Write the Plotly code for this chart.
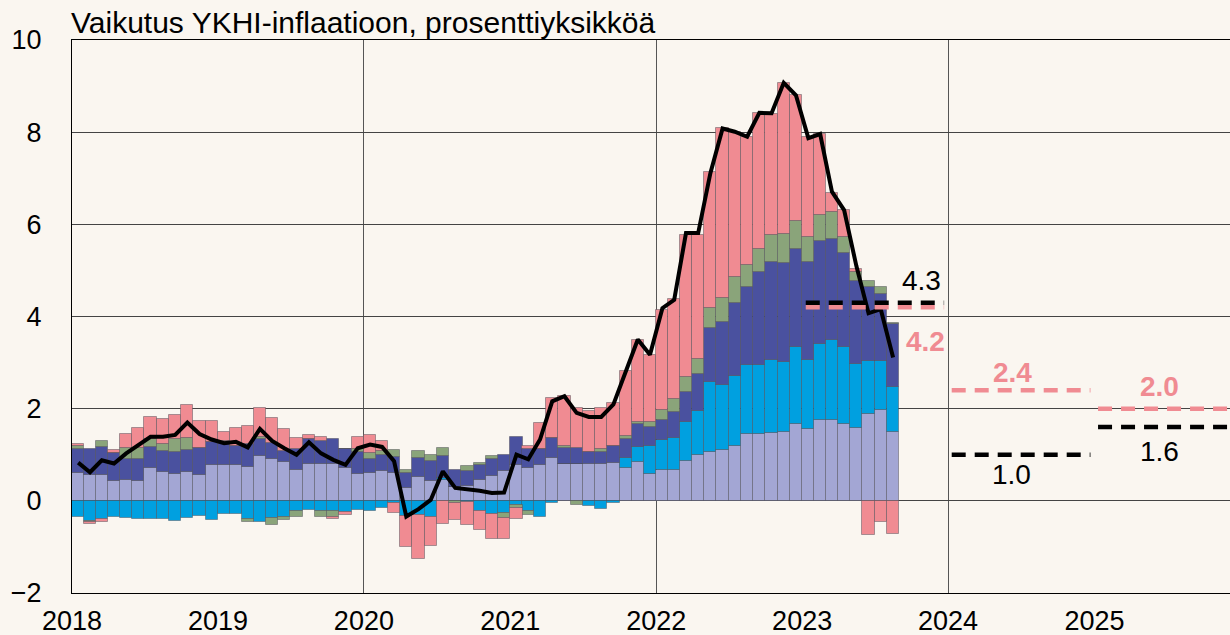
import pandas as pd
import plotly.graph_objects as go

months = pd.date_range("2018-01-01", "2023-08-01", freq="MS").strftime("%Y-%m-%d").tolist()

palvelut = [0.60, 0.57, 0.57, 0.43, 0.45, 0.42, 0.71, 0.62, 0.58, 0.62, 0.57, 0.78,
            0.78, 0.78, 0.74, 0.98, 0.91, 0.85, 0.67, 0.81, 0.81, 0.80, 0.71, 0.59,
            0.60, 0.64, 0.60, 0.28, 0.51, 0.44, 0.45, 0.31, 0.33, 0.46, 0.53, 0.64,
            0.78, 0.71, 0.78, 0.93, 0.80, 0.80, 0.80, 0.80, 0.83, 0.72, 0.84, 0.59,
            0.68, 0.67, 0.87, 1.00, 1.07, 1.11, 1.18, 1.45, 1.45, 1.47, 1.50, 1.66,
            1.55, 1.76, 1.76, 1.66, 1.58, 1.89, 1.97, 1.49]
teollisuus = [-0.35, -0.43, -0.40, -0.36, -0.38, -0.40, -0.40, -0.40, -0.43, -0.38, -0.32, -0.42,
              -0.28, -0.28, -0.40, -0.46, -0.38, -0.35, -0.23, -0.20, -0.22, -0.22, -0.25, -0.20,
              -0.23, -0.16, -0.05, -0.32, -0.30, -0.36, 0.04, 0.00, -0.02, -0.23, -0.29, -0.27,
              -0.10, -0.23, -0.36, -0.05, 0.00, 0.00, -0.12, -0.18, -0.04, 0.22, 0.32, 0.59,
              0.64, 0.69, 0.84, 0.96, 1.50, 1.41, 1.52, 1.50, 1.49, 1.59, 1.52, 1.67,
              1.51, 1.64, 1.72, 1.67, 1.39, 1.15, 1.07, 0.99]
elintarvikkeet = [0.52, 0.55, 0.59, 0.60, 0.45, 0.48, 0.46, 0.47, 0.49, 0.49, 0.57, 0.50,
                  0.47, 0.42, 0.49, 0.36, 0.34, 0.24, 0.45, 0.53, 0.48, 0.54, 0.41, 0.46,
                  0.31, 0.35, 0.36, 0.32, 0.42, 0.42, 0.49, 0.35, 0.31, 0.32, 0.38, 0.36,
                  0.60, 0.41, 0.34, 0.43, 0.34, 0.34, 0.27, 0.27, 0.35, 0.40, 0.50, 0.43,
                  0.44, 0.56, 0.66, 0.80, 1.17, 1.37, 1.60, 1.68, 2.03, 2.13, 2.14, 2.13,
                  2.13, 2.23, 2.20, 2.04, 1.79, 1.59, 1.45, 1.35]
alkoholi = [0.06, -0.02, 0.13, 0.00, 0.25, 0.25, 0.17, 0.14, 0.27, 0.25, 0.00, 0.00,
            0.04, 0.00, -0.07, 0.05, -0.14, -0.07, -0.13, 0.00, -0.14, -0.12, 0.00, 0.07,
            0.13, 0.09, 0.15, 0.06, 0.16, 0.13, 0.16, -0.05, 0.12, 0.05, 0.07, -0.11,
            -0.05, -0.07, 0.00, 0.00, 0.04, -0.08, 0.00, 0.05, 0.00, 0.06, 0.04, 0.09,
            0.21, 0.28, 0.31, 0.32, 0.44, 0.51, 0.55, 0.49, 0.49, 0.58, 0.62, 0.62,
            0.54, 0.57, 0.58, 0.35, 0.21, 0.14, 0.14, 0.02]
energia = [0.05, -0.05, -0.05, 0.07, 0.29, 0.43, 0.49, 0.55, 0.52, 0.71, 0.60, 0.46,
           0.20, 0.38, 0.40, 0.62, 0.55, 0.47, 0.24, 0.09, 0.10, -0.06, -0.05, 0.27,
           0.39, 0.21, -0.22, -0.69, -0.96, -0.61, -0.51, -0.36, -0.50, -0.40, -0.54, -0.45,
           -0.25, 0.06, 0.57, 0.87, 1.10, 0.87, 0.89, 0.89, 0.94, 1.41, 1.78, 1.47,
           2.17, 2.17, 3.09, 2.69, 2.95, 3.70, 3.16, 2.78, 2.95, 2.62, 3.29, 2.72,
           2.17, 1.76, 0.41, 0.59, 0.06, -0.74, -0.45, -0.72]
ykhi = [0.83, 0.62, 0.88, 0.81, 1.03, 1.20, 1.39, 1.39, 1.43, 1.70, 1.45, 1.33,
        1.25, 1.28, 1.16, 1.56, 1.30, 1.14, 1.00, 1.27, 1.03, 0.89, 0.78, 1.14,
        1.22, 1.17, 0.86, -0.34, -0.18, 0.02, 0.64, 0.28, 0.26, 0.22, 0.17, 0.18,
        1.00, 0.90, 1.33, 2.16, 2.27, 1.91, 1.82, 1.82, 2.09, 2.81, 3.50, 3.17,
        4.18, 4.36, 5.81, 5.81, 7.11, 8.08, 8.01, 7.90, 8.42, 8.41, 9.07, 8.80,
        7.87, 7.96, 6.71, 6.31, 5.10, 4.07, 4.16, 3.11]

ennuste_vuodet = [2023, 2024, 2025]
ennuste_musta = [4.3, 1.0, 1.6]
ennuste_pun = [4.2, 2.4, 2.0]

year_ticks = [2018, 2019, 2020, 2021, 2022, 2023, 2024, 2025]

FONT = "Liberation Sans, Arial, sans-serif"
BG = "#faf6f0"
comp_names = ["Palvelut", "Teollisuustuotteet", "Elintarvikkeet", "Alkoholi ja tupakka", "Energia"]
comp_vals = [palvelut, teollisuus, elintarvikkeet, alkoholi, energia]
comp_cols = ["#a3a6d4", "#00a0e0", "#4a519f", "#8aa47a", "#f08b92"]

MONTH_MS = 30.44 * 24 * 3600 * 1000

fig = go.Figure()
for name, vals, col in zip(comp_names, comp_vals, comp_cols):
    fig.add_trace(go.Bar(
        x=months, y=vals, name=name, marker_color=col,
        marker_line=dict(color="rgba(70,70,80,0.45)", width=1),
        xperiod="M1", xperiodalignment="middle", width=MONTH_MS,
    ))

fig.add_trace(go.Scatter(
    x=months, y=ykhi, mode="lines", name="YKHI",
    line=dict(color="black", width=4),
    xperiod="M1", xperiodalignment="middle",
))

black_lbl = dict(dx=[47, -9, -7], dy=[-22, 20, 24])
pink_lbl = dict(dx=[51, -8, -7], dy=[34, -18, -22])
for i, yr in enumerate(ennuste_vuodet):
    xs = [f"{yr}-01-10", f"{yr}-12-22"]
    fig.add_trace(go.Scatter(x=xs, y=[ennuste_pun[i]] * 2, mode="lines",
                             line=dict(color="#f08b92", width=4.5, dash="14px,9px"),
                             showlegend=False))
    fig.add_trace(go.Scatter(x=xs, y=[ennuste_musta[i]] * 2, mode="lines",
                             line=dict(color="black", width=4.5, dash="14px,9px"),
                             showlegend=False))
    fig.add_annotation(x=f"{yr}-07-01", y=ennuste_musta[i], text=f"{ennuste_musta[i]:.1f}",
                       showarrow=False, xshift=black_lbl["dx"][i], yshift=-black_lbl["dy"][i],
                       font=dict(family=FONT, size=28, color="black"))
    fig.add_annotation(x=f"{yr}-07-01", y=ennuste_pun[i], text=f"<b>{ennuste_pun[i]:.1f}</b>",
                       showarrow=False, xshift=pink_lbl["dx"][i], yshift=-pink_lbl["dy"][i],
                       font=dict(family=FONT, size=28, color="#f08b92"))

fig.add_annotation(x=0, y=1, xref="paper", yref="paper", xanchor="left", yanchor="bottom",
                   text="Vaikutus YKHI-inflaatioon, prosenttiyksikköä", showarrow=False,
                   xshift=-3, yshift=-1, font=dict(family=FONT, size=30, color="black"))

fig.update_layout(
    width=1230, height=635,
    margin=dict(l=72, r=0, t=40, b=42, autoexpand=False),
    paper_bgcolor=BG, plot_bgcolor=BG,
    barmode="relative", bargap=0,
    showlegend=False,
    font=dict(family=FONT, size=27, color="black"),
    xaxis=dict(
        type="date", range=["2018-01-01", "2025-12-06"],
        tickvals=[f"{y}-01-01" for y in year_ticks], ticktext=[str(y) for y in year_ticks],
        showgrid=False, showline=True, linecolor="black", linewidth=1, mirror=True,
        ticks="", ticklabelstandoff=4, automargin=False,
        minor=dict(dtick="M24", tick0="2018-01-01", showgrid=True, gridcolor="#555555", gridwidth=1),
        tickfont=dict(size=27),
    ),
    yaxis=dict(
        range=[-2, 10], tickvals=[-2, 0, 2, 4, 6, 8, 10],
        ticktext=["\u22122", "0", "2", "4", "6", "8", "10"],
        showgrid=True, gridcolor="#444444", gridwidth=1,
        zeroline=True, zerolinecolor="#444444", zerolinewidth=1,
        showline=True, linecolor="black", linewidth=1,
        ticks="", ticklabelstandoff=24, tickfont=dict(size=27), automargin=False,
    ),
)

fig.write_html(
    "out.html",
    config={"displayModeBar": False},
    post_script="document.body.style.margin='0';document.body.style.overflow='hidden';",
)
